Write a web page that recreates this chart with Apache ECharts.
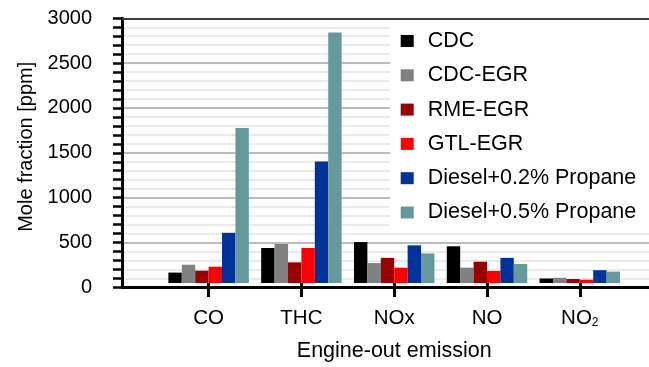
<!DOCTYPE html>
<html>
<head>
<meta charset="utf-8">
<script src="https://cdn.jsdelivr.net/npm/echarts@6/dist/echarts.min.js"></script>
<style>
html,body{margin:0;padding:0;background:#fff;}
#c{width:649px;height:367px;}
</style>
</head>
<body>
<div id="c"></div>
<script>
var categories = ['CO', 'THC', 'NOx', 'NO', 'NO2'];
var seriesNames = ['CDC', 'CDC-EGR', 'RME-EGR', 'GTL-EGR', 'Diesel+0.2% Propane', 'Diesel+0.5% Propane'];
var cdc = [118, 397, 464, 416, 51];
var cdcEgr = [207, 442, 226, 174, 59];
var rmeEgr = [140, 234, 285, 241, 45];
var gtlEgr = [185, 397, 174, 137, 37];
var propane02 = [569, 1378, 427, 285, 145];
var propane05 = [1757, 2839, 335, 215, 129];
var yTicks = [0, 500, 1000, 1500, 2000, 2500, 3000];

var seriesValues = [cdc, cdcEgr, rmeEgr, gtlEgr, propane02, propane05];
var colors = ['#000000', '#808080', '#990000', '#ff0000', '#003399', '#669999'];
var FONT = 'Liberation Sans, Arial, sans-serif';

var chart = echarts.init(document.getElementById('c'), null, {renderer: 'canvas'});

var series = seriesNames.map(function (n, i) {
  return {
    name: n,
    type: 'bar',
    xAxisIndex: 1,
    yAxisIndex: 1,
    data: seriesValues[i],
    barGap: '0%',
    barCategoryGap: '13.3%',
    itemStyle: {color: colors[i]},
    animation: false
  };
});

chart.setOption({
  animation: false,
  textStyle: {fontFamily: FONT},
  grid: [
    {left: 122, top: 18.3, right: -30, bottom: 79.7},
    {left: 162.2, top: 18.3, right: 22.8, bottom: 79.7}
  ],
  legend: {
    orient: 'vertical',
    left: 390,
    top: 20,
    padding: [10, 40, 4, 10.7],
    backgroundColor: '#ffffff',
    itemWidth: 13,
    itemHeight: 12,
    itemGap: 12.3,
    icon: 'rect',
    data: seriesNames,
    textStyle: {fontSize: 21.5, color: '#000', fontFamily: FONT, padding: [0, 0, 0, 9]}
  },
  xAxis: [
    {
      gridIndex: 0, type: 'value', min: 0, max: 1,
      axisLine: {show: true, lineStyle: {color: '#000', width: 3}},
      axisTick: {show: false}, axisLabel: {show: false}, splitLine: {show: false}
    },
    {
      gridIndex: 1, type: 'category', data: categories,
      axisLine: {show: false},
      axisTick: {show: true, alignWithLabel: true, interval: 0, length: 14, lineStyle: {color: '#000', width: 3}},
      axisLabel: {
        interval: 0,
        fontSize: 20.5, color: '#000', margin: 25, fontFamily: FONT,
        formatter: function (v) { return v === 'NO2' ? 'NO{sub|2}' : v; },
        rich: {sub: {fontSize: 12, lineHeight: 8, verticalAlign: 'bottom', color: '#000', fontFamily: FONT}}
      },
      name: 'Engine-out emission',
      nameLocation: 'middle',
      nameGap: 57,
      nameTextStyle: {fontSize: 21.5, color: '#000', fontFamily: FONT}
    },
    {
      gridIndex: 0, type: 'value', min: 0, max: 1, position: 'top',
      axisLine: {show: true, lineStyle: {color: '#404040', width: 2}},
      axisTick: {show: false}, axisLabel: {show: false}, splitLine: {show: false}
    }
  ],
  yAxis: [
    {
      gridIndex: 0, type: 'value', min: yTicks[0], max: yTicks[yTicks.length - 1], interval: 500,
      axisLine: {show: true, lineStyle: {color: '#000', width: 3}},
      axisTick: {show: true, inside: false, length: 9, lineStyle: {color: '#000', width: 2.5}},
      minorTick: {show: true, splitNumber: 5, length: 9, lineStyle: {color: '#000', width: 2.5}},
      axisLabel: {fontSize: 20, color: '#000', margin: 30, fontFamily: FONT,
        formatter: function (v) { return String(v); }},
      splitLine: {show: true, lineStyle: {color: '#a6a6a6', width: 1.5}},
      minorSplitLine: {show: true, lineStyle: {color: '#e3e3e3', width: 1.5}},
      name: 'Mole fraction [ppm]',
      nameLocation: 'middle',
      nameGap: 73,
      nameTextStyle: {fontSize: 20, color: '#000', fontFamily: FONT, padding: [0, 0, 0, 12]}
    },
    {
      gridIndex: 1, type: 'value', min: 0, max: 3000, interval: 500, show: false,
      splitLine: {show: false}
    }
  ],
  series: series
});
</script>
</body>
</html>
